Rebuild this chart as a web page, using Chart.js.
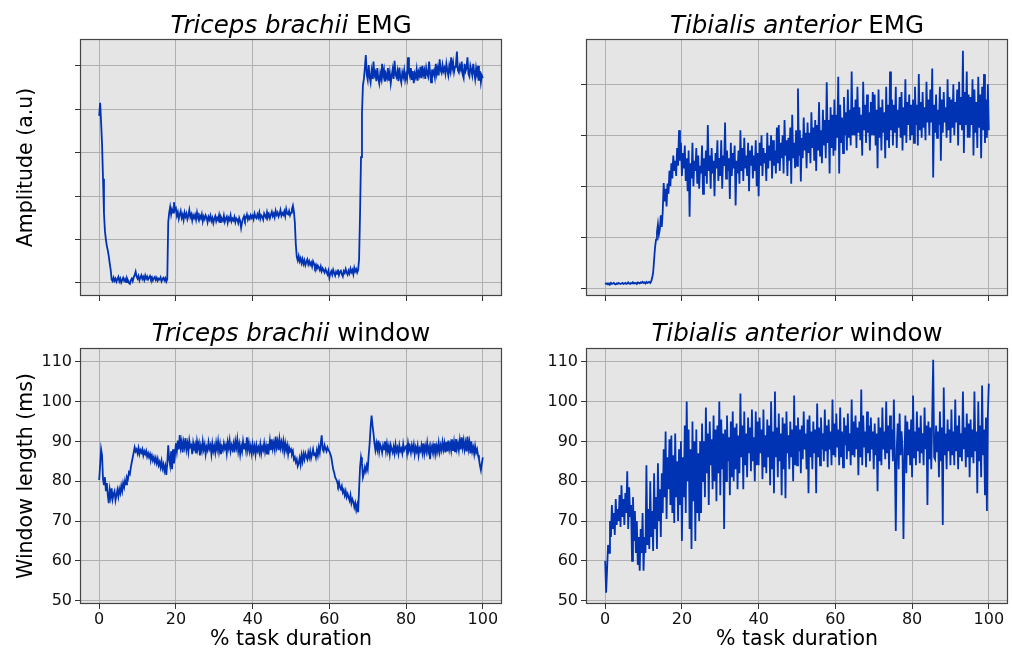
<!DOCTYPE html>
<html lang="en">
<head>
<meta charset="UTF-8">
<title>EMG amplitude and window length</title>
<script src="https://cdn.jsdelivr.net/npm/chart.js"></script>
<style>
  html, body { margin: 0; padding: 0; background: #fff; }
  body { width: 1012px; height: 651px; position: relative; overflow: hidden; font-family: 'DejaVu Sans', sans-serif; }
  canvas { position: absolute; }
  .title { position: absolute; text-align: center; font-size: 24.5px; line-height: 24px; color: #000; white-space: nowrap; }
</style>
</head>
<body>
<canvas id="tbEmgChart" width="520" height="312" style="left:0;top:0"></canvas>
<canvas id="taEmgChart" width="492" height="312" style="left:520px;top:0"></canvas>
<canvas id="tbWinChart" width="520" height="339" style="left:0;top:312px"></canvas>
<canvas id="taWinChart" width="492" height="339" style="left:520px;top:312px"></canvas>

<div class="title" style="left:80px;top:13px;width:422px"><i>Triceps brachii</i> EMG</div>
<div class="title" style="left:586px;top:13px;width:422px"><i>Tibialis anterior</i> EMG</div>
<div class="title" style="left:80px;top:321px;width:422px"><i>Triceps brachii</i> window</div>
<div class="title" style="left:586px;top:321px;width:422px"><i>Tibialis anterior</i> window</div>

<script>
  // samples evenly spaced over 0..100 % of the task, one row = 5 %
  const tbEmg = [
    3.85, 4.15, 3.70, 3.20, 2.40, 1.60, 1.20, 1.00, 0.85, 0.75, 0.62, 0.45, 0.30, 0.08, 0.04, 0.12, 0.05, 0.10, 0.03, 0.09,
    0.14, 0.04, 0.10, 0.01, 0.07, 0.12, 0.05, 0.09, 0.02, 0.11, 0.06, 0.00, -0.02, 0.06, 0.10, 0.04, 0.13, 0.18, 0.26, 0.15,
    0.10, 0.16, 0.06, 0.13, 0.18, 0.09, 0.14, 0.07, 0.17, 0.10, 0.15, 0.08, 0.12, 0.16, 0.09, 0.13, 0.06, 0.11, 0.14, 0.07,
    0.12, 0.05, 0.10, 0.08, 0.13, 0.04, 0.09, 0.12, 0.06, 0.11, 0.03, 0.09, 1.40, 1.62, 1.75, 1.58, 1.70, 1.62, 1.86, 1.68,
    1.72, 1.55, 1.63, 1.48, 1.58, 1.66, 1.50, 1.57, 1.45, 1.62, 1.53, 1.60, 1.47, 1.55, 1.68, 1.52, 1.58, 1.44, 1.56, 1.50,
    1.57, 1.46, 1.62, 1.50, 1.44, 1.55, 1.49, 1.58, 1.42, 1.53, 1.47, 1.56, 1.51, 1.40, 1.52, 1.46, 1.55, 1.43, 1.50, 1.38,
    1.48, 1.54, 1.42, 1.50, 1.45, 1.56, 1.40, 1.52, 1.47, 1.43, 1.55, 1.41, 1.49, 1.53, 1.39, 1.50, 1.45, 1.56, 1.42, 1.48,
    1.44, 1.52, 1.40, 1.49, 1.46, 1.38, 1.50, 1.43, 1.27, 1.40, 1.48, 1.54, 1.45, 1.51, 1.58, 1.46, 1.53, 1.48, 1.56, 1.50,
    1.55, 1.47, 1.60, 1.52, 1.49, 1.58, 1.51, 1.62, 1.48, 1.56, 1.53, 1.46, 1.60, 1.55, 1.50, 1.63, 1.52, 1.58, 1.49, 1.57,
    1.64, 1.54, 1.60, 1.51, 1.66, 1.57, 1.62, 1.53, 1.59, 1.68, 1.55, 1.61, 1.57, 1.65, 1.54, 1.70, 1.60, 1.58, 1.66, 1.56,
    1.62, 1.70, 1.78, 1.65, 1.40, 0.90, 0.60, 0.52, 0.62, 0.50, 0.57, 0.46, 0.55, 0.44, 0.52, 0.41, 0.48, 0.54, 0.43, 0.50,
    0.42, 0.47, 0.38, 0.50, 0.44, 0.36, 0.42, 0.33, 0.40, 0.36, 0.30, 0.38, 0.27, 0.34, 0.29, 0.24, 0.32, 0.26, 0.20, 0.28,
    0.12, 0.22, 0.27, 0.19, 0.30, 0.23, 0.17, 0.26, 0.21, 0.31, 0.18, 0.25, 0.28, 0.20, 0.15, 0.27, 0.23, 0.32, 0.24, 0.19,
    0.28, 0.22, 0.33, 0.25, 0.30, 0.20, 0.35, 0.27, 0.32, 0.24, 0.30, 0.55, 1.60, 2.90, 3.90, 4.55, 4.70, 4.95, 5.25, 4.80,
    4.68, 5.02, 4.75, 4.62, 4.88, 4.70, 5.10, 4.78, 4.85, 4.65, 4.95, 4.72, 4.60, 4.82, 4.70, 5.05, 4.76, 4.90, 4.64, 4.80,
    4.72, 4.95, 4.66, 4.84, 4.60, 4.78, 4.92, 4.70, 5.12, 4.80, 4.74, 4.88, 4.65, 4.96, 4.73, 4.62, 4.85, 4.75, 4.90, 4.68,
    4.80, 4.70, 5.20, 4.85, 4.76, 4.95, 4.68, 4.88, 4.60, 4.82, 4.74, 4.92, 4.66, 4.86, 4.78, 4.98, 4.72, 5.00, 4.80, 4.90,
    4.70, 4.95, 4.82, 4.75, 5.10, 4.85, 4.62, 4.92, 4.80, 4.88, 4.74, 5.05, 4.82, 4.95, 4.78, 5.15, 4.90, 4.84, 5.02, 4.88,
    4.95, 4.82, 5.05, 4.90, 4.78, 5.00, 4.88, 5.20, 4.94, 5.08, 4.86, 4.98, 5.05, 5.33, 4.90, 4.85, 5.00, 4.92, 5.10, 4.80,
    4.72, 5.05, 4.88, 4.95, 5.20, 4.82, 4.76, 5.00, 4.90, 4.78, 5.05, 4.85, 4.70, 4.95, 4.80, 5.00, 4.66, 4.88, 4.62, 4.78,
    4.72
  ];

  const taEmg = [
    0.10, 0.08, 0.09, 0.07, 0.09, 0.08, 0.10, 0.08, 0.09, 0.10, 0.08, 0.07, 0.09, 0.08, 0.10, 0.09, 0.08, 0.09, 0.10, 0.08,
    0.09, 0.10, 0.08, 0.09, 0.11, 0.09, 0.08, 0.10, 0.09, 0.11, 0.10, 0.09, 0.10, 0.08, 0.11, 0.10, 0.09, 0.11, 0.10, 0.12,
    0.10, 0.11, 0.09, 0.12, 0.10, 0.11, 0.12, 0.10, 0.13, 0.20, 0.30, 0.55, 0.80, 0.95, 1.10, 1.25, 1.05, 1.15, 1.43, 1.20,
    1.50, 2.06, 1.70, 1.95, 1.60, 2.05, 1.85, 2.30, 2.00, 2.45, 2.15, 2.60, 2.30, 2.50, 2.20, 2.75, 2.40, 3.10, 2.50, 2.85,
    2.20, 2.65, 2.35, 2.80, 2.10, 2.55, 1.90, 2.70, 1.40, 2.45, 2.15, 2.85, 2.00, 2.50, 2.30, 2.75, 2.05, 2.60, 1.95, 2.40,
    2.25, 2.80, 1.85, 2.55, 2.20, 2.70, 2.05, 3.20, 2.30, 2.60, 1.95, 2.75, 2.25, 2.50, 1.80, 2.65, 2.35, 2.90, 2.10, 2.55,
    2.20, 2.90, 1.95, 2.60, 2.40, 3.25, 2.15, 2.70, 2.30, 2.55, 1.75, 2.85, 2.20, 2.65, 2.35, 2.80, 1.62, 2.50, 2.25, 2.70,
    2.05, 3.10, 2.30, 2.75, 2.10, 2.95, 2.35, 2.60, 2.20, 2.85, 1.90, 2.70, 2.40, 2.80, 2.15, 2.60, 2.30, 2.90, 2.00, 2.65,
    1.80, 2.85, 2.40, 3.00, 2.20, 2.75, 2.45, 2.65, 2.10, 3.05, 2.35, 2.80, 2.50, 3.00, 2.15, 2.90, 2.40, 2.70, 2.25, 3.15,
    2.45, 3.20, 2.30, 2.85, 2.55, 3.00, 2.25, 3.30, 2.60, 2.90, 2.20, 2.95, 2.50, 3.15, 2.05, 3.40, 2.55, 2.85, 2.35, 3.10,
    2.40, 3.92, 2.60, 3.10, 2.09, 2.95, 2.55, 3.35, 2.70, 3.05, 2.35, 3.25, 2.65, 3.05, 2.45, 3.45, 2.75, 3.15, 2.50, 3.30,
    2.30, 3.20, 2.70, 3.65, 2.60, 3.10, 2.45, 3.50, 2.80, 3.30, 2.55, 4.04, 2.85, 3.30, 2.25, 3.55, 2.75, 3.40, 2.60, 3.70,
    2.70, 3.40, 2.95, 4.15, 2.25, 3.60, 2.85, 3.35, 2.65, 3.75, 3.00, 3.45, 2.70, 3.90, 2.95, 3.50, 2.80, 4.25, 3.00, 3.55,
    3.00, 3.70, 2.75, 3.95, 3.05, 3.55, 2.90, 3.40, 2.60, 4.05, 3.10, 3.60, 2.85, 3.80, 3.05, 3.45, 2.70, 3.65, 3.00, 3.85,
    3.00, 3.80, 2.80, 3.50, 2.35, 3.90, 2.95, 3.55, 2.70, 3.70, 3.05, 3.45, 2.55, 3.95, 2.90, 3.60, 2.75, 4.25, 3.10, 3.70,
    2.80, 3.60, 3.05, 3.95, 2.75, 3.50, 3.15, 3.75, 2.95, 3.85, 2.70, 3.55, 3.00, 4.10, 2.85, 3.65, 3.20, 3.80, 2.90, 3.60,
    3.00, 3.70, 2.85, 3.95, 3.20, 3.60, 2.80, 4.20, 3.10, 3.65, 2.95, 3.85, 3.15, 3.55, 2.90, 4.05, 3.25, 3.70, 3.00, 3.90,
    3.25, 4.31, 2.17, 3.60, 3.05, 3.80, 2.95, 3.50, 3.20, 3.95, 2.50, 3.70, 3.05, 3.85, 3.25, 3.55, 2.95, 4.10, 3.10, 3.75,
    2.85, 3.70, 3.15, 4.00, 3.00, 3.65, 3.25, 3.90, 2.80, 4.05, 3.20, 3.75, 3.10, 4.66, 2.65, 3.85, 3.20, 4.25, 2.95, 3.80,
    2.95, 3.75, 3.20, 4.10, 2.60, 3.90, 3.05, 3.65, 2.75, 4.15, 3.15, 3.80, 2.55, 3.95, 3.10, 4.20, 2.85, 3.70, 2.95, 4.00,
    3.10
  ];

  const tbWindow = [
    80.3, 84.0, 88.0, 86.5, 80.5, 79.0, 81.0, 77.5, 79.5, 76.5, 74.5, 77.8, 76.0, 78.2, 75.5, 76.8, 77.5, 75.2, 76.5, 77.8,
    76.2, 78.0, 77.0, 78.8, 77.5, 79.5, 78.5, 80.2, 79.2, 81.0, 80.5, 82.2, 81.8, 83.5, 84.8, 86.0, 87.2, 88.5, 87.5, 88.0,
    87.0, 88.3, 86.8, 87.8, 87.2, 88.0, 86.5, 87.5, 86.8, 87.6, 86.2, 87.0, 86.0, 86.8, 85.5, 86.4, 85.2, 86.0, 84.8, 85.8,
    84.5, 85.6, 84.0, 84.8, 83.5, 85.0, 83.2, 84.2, 82.6, 83.8, 81.6, 84.5, 89.0, 85.5, 84.0, 87.5, 83.0, 88.0, 84.5, 86.5,
    89.5, 87.5, 90.2, 88.0, 91.6, 88.5, 90.0, 87.2, 89.8, 88.5, 90.8, 88.0, 89.5, 87.5, 90.2, 88.6, 89.0, 86.8, 89.6, 88.2,
    89.2, 87.0, 90.0, 88.4, 89.5, 86.5, 88.8, 87.6, 90.0, 88.0, 89.2, 86.8, 88.6, 87.8, 89.8, 88.2, 89.0, 86.8, 89.4, 87.6,
    88.8, 87.2, 89.6, 88.0, 90.0, 87.5, 89.2, 86.8, 88.6, 87.8, 89.5, 88.2, 89.0, 87.0, 89.8, 88.4, 90.2, 87.6, 89.0, 88.0,
    89.4, 87.2, 90.0, 88.5, 90.5, 87.6, 89.2, 86.8, 88.8, 87.5, 90.0, 88.2, 89.5, 87.8, 91.0, 88.0, 89.6, 87.5, 88.8, 87.0,
    89.2, 87.5, 88.8, 86.8, 89.0, 87.6, 88.5, 87.2, 89.2, 87.0, 88.6, 87.8, 89.5, 87.4, 88.8, 86.9, 89.4, 88.0, 90.2, 87.8,
    90.5, 88.2, 89.6, 88.0, 91.2, 88.6, 90.0, 87.8, 90.5, 88.4, 89.8, 88.2, 90.0, 87.5, 89.5, 87.8, 89.0, 86.8, 88.5, 87.5,
    88.0, 86.8, 87.5, 85.5, 86.0, 84.8, 85.5, 83.8, 84.5, 85.8, 84.2, 86.5, 85.0, 86.8, 85.5, 87.0, 86.2, 85.5, 87.2, 86.0,
    87.5, 85.8, 86.8, 88.0, 86.5, 87.2, 86.0, 87.8, 86.5, 88.5, 87.2, 89.5, 91.5, 88.0, 87.5, 89.0, 88.2, 87.5, 88.5, 87.8,
    87.5, 86.8, 86.0, 84.5, 83.0, 82.2, 81.0, 80.5, 80.0, 79.0, 79.8, 78.5, 78.0, 78.8, 77.2, 77.8, 76.5, 77.5, 76.0, 76.8,
    76.0, 75.2, 76.5, 74.5, 75.5, 74.8, 73.5, 74.5, 72.8, 74.0, 72.2, 78.0, 83.5, 86.0, 84.5, 81.0, 82.0, 83.5, 82.5, 84.0,
    83.0, 86.5, 89.5, 93.5, 96.5, 94.0, 92.0, 89.5, 87.8, 89.5, 88.0, 90.2, 87.5, 89.2, 88.5, 87.2, 89.0, 88.0, 90.0, 87.6,
    89.4, 87.5, 88.8, 86.8, 89.0, 88.0, 87.2, 88.6, 87.0, 89.2, 87.5, 88.4, 86.9, 89.0, 87.6, 88.2, 87.0, 89.3, 87.8, 88.5,
    88.8, 87.0, 89.5, 87.8, 88.6, 87.2, 89.0, 87.8, 89.2, 86.8, 88.5, 87.5, 88.9, 86.5, 88.2, 87.6, 89.0, 87.2, 89.5, 87.0,
    88.8, 87.5, 89.6, 87.4, 88.5, 85.5, 88.8, 87.8, 89.0, 87.2, 89.5, 87.0, 88.8, 87.5, 89.6, 87.4, 89.0, 87.8, 89.8, 88.0,
    89.5, 87.2, 89.8, 87.5, 90.2, 88.0, 89.4, 87.8, 90.5, 87.6, 89.8, 87.5, 90.6, 88.2, 89.5, 87.8, 90.2, 88.0, 91.0, 88.5,
    90.2, 88.0, 89.6, 87.5, 91.2, 88.2, 89.8, 87.0, 90.0, 87.5, 88.5, 86.8, 88.8, 87.2, 88.0, 86.5, 85.5, 84.0, 82.8, 84.5,
    86.0
  ];

  const taWindow = [
    60.0, 52.0, 58.0, 64.0, 62.0, 70.0, 66.0, 74.0, 68.0, 72.0, 66.5, 75.5, 69.0, 73.0, 70.0, 76.5, 68.5, 79.0, 71.0, 75.5,
    69.0, 77.0, 72.0, 82.5, 68.0, 78.5, 71.0, 74.0, 60.0, 76.0, 65.0, 72.5, 62.0, 70.0, 59.0, 66.0, 57.5, 68.0, 62.0, 72.0,
    57.5, 66.0, 62.0, 84.0, 64.0, 73.0, 63.0, 80.0, 66.0, 72.5, 62.5, 82.0, 68.0, 76.0, 63.0, 84.5, 70.0, 78.0, 66.0, 82.0,
    72.0, 88.0, 76.0, 92.5, 70.5, 86.0, 78.0, 90.5, 74.0, 91.5, 72.0, 86.5, 69.5, 92.0, 76.0, 85.0, 70.0, 88.0, 74.0, 90.0,
    65.0, 86.0, 76.0, 94.0, 72.0, 100.0, 80.0, 93.0, 68.0, 88.0, 63.0, 95.0, 75.0, 90.0, 65.0, 93.0, 72.0, 87.0, 70.0, 90.0,
    72.0, 94.5, 80.0, 90.0, 76.0, 98.5, 82.0, 92.0, 74.0, 95.0, 84.0, 90.5, 78.0, 96.5, 80.0, 93.0, 75.0, 94.0, 82.0, 100.0,
    76.5, 95.5, 83.0, 92.0, 68.0, 93.0, 80.0, 96.5, 85.0, 91.0, 76.5, 95.0, 81.0, 97.5, 80.0, 93.5, 83.0, 94.5, 78.0, 91.5,
    82.0, 102.0, 86.0, 94.0, 78.0, 97.5, 84.0, 92.0, 81.0, 96.0, 87.0, 93.5, 82.5, 98.0, 85.0, 91.0, 80.0, 97.5, 84.0, 95.0,
    84.0, 96.0, 87.0, 93.0, 80.5, 98.0, 83.5, 91.5, 82.0, 95.5, 86.0, 94.0, 79.0, 100.0, 83.0, 92.5, 77.0, 102.5, 86.0, 93.5,
    81.0, 97.0, 85.0, 92.0, 76.5, 96.0, 83.0, 94.5, 75.7, 97.5, 87.0, 91.5, 83.0, 95.0, 86.0, 93.0, 80.0, 101.5, 84.0, 94.0,
    84.0, 96.0, 87.5, 93.0, 82.0, 94.0, 85.5, 97.5, 88.0, 92.0, 83.0, 95.5, 77.0, 96.5, 86.0, 92.5, 83.0, 95.0, 87.0, 93.0,
    77.0, 99.5, 86.0, 93.5, 84.0, 96.0, 88.0, 92.0, 85.0, 98.0, 87.5, 94.0, 83.5, 95.5, 88.0, 92.5, 84.0, 100.5, 86.5, 94.5,
    86.0, 97.0, 88.5, 93.0, 84.0, 98.5, 86.0, 92.5, 83.5, 96.0, 89.0, 94.0, 85.5, 97.0, 87.5, 92.0, 84.0, 100.5, 86.5, 95.0,
    86.0, 96.5, 88.0, 93.5, 81.5, 95.0, 86.0, 103.0, 84.0, 96.5, 88.5, 92.5, 83.5, 97.5, 87.0, 94.0, 85.0, 96.0, 88.0, 92.5,
    83.0, 94.5, 86.5, 92.0, 77.5, 96.0, 85.0, 93.5, 84.0, 98.5, 88.0, 92.5, 85.5, 100.0, 87.0, 94.0, 83.0, 96.5, 88.0, 93.0,
    85.0, 100.5, 86.0, 67.5, 88.0, 94.5, 83.0, 97.0, 86.5, 92.5, 88.0, 65.5, 85.0, 96.5, 82.0, 95.0, 86.5, 93.0, 84.0, 95.5,
    81.0, 101.5, 86.0, 92.5, 84.0, 97.5, 87.5, 93.5, 84.5, 96.5, 87.0, 92.0, 84.0, 98.5, 88.0, 94.0, 74.0, 95.0, 85.5, 93.5,
    83.0, 96.5, 110.5, 86.0, 85.5, 94.0, 87.5, 92.5, 81.0, 97.5, 85.0, 93.5, 69.0, 103.5, 86.5, 92.0, 83.0, 95.5, 87.5, 93.0,
    84.0, 98.0, 86.5, 92.5, 84.0, 100.5, 87.5, 94.0, 83.0, 96.5, 86.0, 92.0, 85.0, 102.5, 88.0, 93.5, 83.5, 97.0, 86.0, 94.5,
    81.0, 95.5, 86.0, 93.0, 84.5, 102.5, 87.5, 92.5, 77.0, 100.0, 85.0, 94.0, 81.0, 104.0, 86.5, 93.0, 76.5, 96.0, 72.5, 97.0,
    104.5
  ];

  const xTicks = [0, 20, 40, 60, 80, 100];
  const tbEmgTicks = [0, 1, 2, 3, 4, 5];
  const taEmgTicks = [0, 1, 2, 3, 4];
  const windowTicks = [50, 60, 70, 80, 90, 100, 110];

  const lineColor = '#0033b3';
  const fontFamily = "'DejaVu Sans', sans-serif";

  // grey panel background + dark frame, like the matplotlib axes
  const panelFrame = {
    id: 'panelFrame',
    beforeDraw(chart) {
      const { ctx, chartArea: a } = chart;
      ctx.save();
      ctx.fillStyle = '#e5e5e5';
      ctx.fillRect(a.left, a.top, a.right - a.left, a.bottom - a.top);
      ctx.restore();
    },
    afterDatasetsDraw(chart) {
      const { ctx, chartArea: a } = chart;
      ctx.save();
      ctx.strokeStyle = '#444';
      ctx.lineWidth = 1.2;
      ctx.strokeRect(Math.round(a.left) + 0.5, Math.round(a.top) + 0.5,
        Math.round(a.right - a.left) - 1, Math.round(a.bottom - a.top) - 1);
      ctx.restore();
    }
  };

  function makePanel(id, values, o) {
    const step = 100 / (values.length - 1);
    const points = values.map((v, i) => ({ x: i * step, y: v }));

    const grid = {
      color: '#b0b0b0',
      lineWidth: 1,
      drawTicks: true,
      tickLength: 5,
      tickColor: '#333'
    };

    return new Chart(document.getElementById(id), {
      type: 'line',
      data: {
        datasets: [{
          data: points,
          borderColor: lineColor,
          borderWidth: 1.8,
          pointRadius: 0,
          tension: 0,
          fill: false
        }]
      },
      options: {
        responsive: false,
        animation: false,
        events: [],
        layout: { padding: o.pad },
        plugins: {
          legend: { display: false },
          tooltip: { enabled: false }
        },
        scales: {
          x: {
            type: 'linear',
            min: -5,
            max: 105,
            afterBuildTicks: s => { s.ticks = xTicks.map(v => ({ value: v })); },
            afterFit: s => { s.height = o.xHeight; s.paddingLeft = 0; s.paddingRight = 0; },
            grid: grid,
            border: { display: false },
            ticks: {
              autoSkip: false,
              maxRotation: 0,
              padding: 1,
              color: '#111',
              font: { family: fontFamily, size: 16 },
              callback: v => o.xLabels ? v : ''
            },
            title: {
              display: !!o.xTitle,
              text: o.xTitle || '',
              color: '#000',
              font: { family: fontFamily, size: 20.5, lineHeight: 1.1 },
              padding: { top: 0, bottom: 0 }
            }
          },
          y: {
            type: 'linear',
            min: o.yMin,
            max: o.yMax,
            afterBuildTicks: s => { s.ticks = o.yTicks.map(v => ({ value: v })); },
            afterFit: s => { s.width = o.yWidth; s.paddingTop = 0; s.paddingBottom = 0; },
            grid: grid,
            border: { display: false },
            ticks: {
              autoSkip: false,
              padding: 3,
              color: '#111',
              font: { family: fontFamily, size: 16 },
              callback: v => o.yLabels ? v : ''
            },
            title: {
              display: !!o.yTitle,
              text: o.yTitle || '',
              color: '#000',
              font: { family: fontFamily, size: 20.5, lineHeight: 1.2 },
              padding: { top: 14, bottom: 0 }
            }
          }
        }
      },
      plugins: [panelFrame]
    });
  }

  makePanel('tbEmgChart', tbEmg, {
    pad: { left: 0, top: 39, right: 18, bottom: 0 },
    yWidth: 80, xHeight: 16,
    yMin: -0.3, yMax: 5.62, yTicks: tbEmgTicks,
    xLabels: false, yLabels: false,
    yTitle: 'Amplitude (a.u)'
  });

  makePanel('taEmgChart', taEmg, {
    pad: { left: 0, top: 39, right: 4, bottom: 0 },
    yWidth: 66, xHeight: 16,
    yMin: -0.157, yMax: 4.89, yTicks: taEmgTicks,
    xLabels: false, yLabels: false
  });

  makePanel('tbWinChart', tbWindow, {
    pad: { left: 0, top: 36, right: 18, bottom: 0 },
    yWidth: 80, xHeight: 47,
    yMin: 49.17, yMax: 113.44, yTicks: windowTicks,
    xLabels: true, yLabels: true,
    yTitle: 'Window length (ms)',
    xTitle: '% task duration'
  });

  makePanel('taWinChart', taWindow, {
    pad: { left: 0, top: 36, right: 4, bottom: 0 },
    yWidth: 66, xHeight: 47,
    yMin: 49.17, yMax: 113.44, yTicks: windowTicks,
    xLabels: true, yLabels: true,
    xTitle: '% task duration'
  });
</script>
</body>
</html>
